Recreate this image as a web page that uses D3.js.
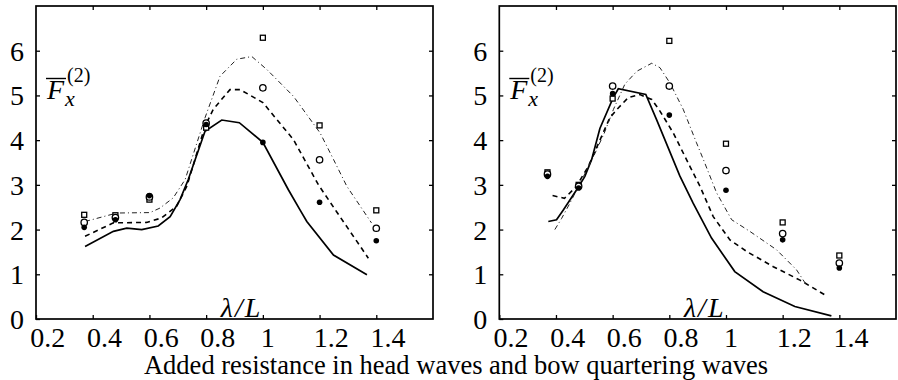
<!DOCTYPE html>
<html><head><meta charset="utf-8">
<script src="https://cdn.jsdelivr.net/npm/d3@7"></script>
<style>
body{margin:0;background:#fff;}
svg{display:block;}
svg text{font-family:"Liberation Serif","Times New Roman",serif !important;fill:#000;}
</style></head>
<body><svg id="c" width="898" height="380"></svg>
<script>
// ---- data ----
const xTicks = [0.2, 0.4, 0.6, 0.8, 1.0, 1.2, 1.4];
const yTicks = [0, 1, 2, 3, 4, 5, 6];
const lambdaExp = [0.37, 0.48, 0.6, 0.8, 1.0, 1.2, 1.4];

// head waves (left)
const headSquare = [2.33, 2.32, 2.67, 4.28, 6.29, 4.33, 2.43];
const headCircle = [2.16, 2.27, 2.73, 4.38, 5.17, 3.56, 2.03];
const headFilled = [2.05, 2.22, 2.76, 4.35, 3.95, 2.61, 1.75];
const headSolidX = [0.373,0.473,0.52,0.573,0.631,0.673,0.708,0.737,0.796,0.855,0.917,1.0,1.09,1.131,1.155,1.249,1.367];
const headSolidY = [1.62,1.96,2.03,2.0,2.08,2.29,2.67,3.12,4.2,4.45,4.39,3.95,2.89,2.44,2.18,1.43,0.99];
const headDashX = [0.373,0.473,0.59,0.643,0.696,0.732,0.796,0.825,0.884,0.92,1.0,1.108,1.196,1.26,1.372];
const headDashY = [1.85,2.15,2.16,2.26,2.52,2.97,4.31,4.69,5.13,5.13,4.84,4.01,3.0,2.4,1.36];
const headDotX = [0.373,0.485,0.602,0.637,0.684,0.726,0.796,0.849,0.908,0.961,1.014,1.108,1.202,1.249,1.296,1.383];
const headDotY = [2.18,2.37,2.38,2.48,2.71,3.12,4.5,5.43,5.81,5.87,5.58,4.98,4.16,3.57,2.97,2.15];

// bow quartering waves (right)
const bowSquare = [3.28, 3.0, 4.93, 6.22, 3.92, 2.16, 1.42];
const bowCircle = [3.24, 2.97, 5.21, 5.21, 3.32, 1.91, 1.25];
const bowFilled = [3.19, 2.93, 5.04, 4.56, 2.88, 1.77, 1.14];
const bowSolidX = [0.373,0.402,0.426,0.473,0.502,0.526,0.555,0.602,0.62,0.717,0.755,0.837,0.884,0.949,1.031,1.131,1.243,1.372];
const bowSolidY = [2.18,2.22,2.44,2.89,3.19,3.57,4.26,4.95,5.15,5.02,4.46,3.2,2.59,1.81,1.06,0.61,0.28,0.07];
const bowDashX = [0.388,0.43,0.47,0.514,0.59,0.62,0.655,0.696,0.738,0.767,0.814,0.873,0.908,0.955,1.014,1.073,1.167,1.261,1.349];
const bowDashY = [2.76,2.70,2.95,3.41,4.5,4.72,4.95,5.02,4.91,4.65,4.16,3.41,2.97,2.29,1.77,1.51,1.17,0.87,0.54];
const bowDotX = [0.396,0.42,0.45,0.49,0.53,0.57,0.603,0.643,0.685,0.738,0.767,0.802,0.849,0.896,0.92,0.967,1.02,1.084,1.178,1.249,1.284];
const bowDotY = [2.0,2.25,2.6,3.1,3.6,4.15,4.69,5.25,5.54,5.72,5.62,5.28,4.69,3.94,3.57,2.82,2.22,1.96,1.55,1.1,0.76];

const caption = "Added resistance in head waves and bow quartering waves";

// ---- drawing ----
const svg = d3.select("#c");
const yTop = 6, yBottom = 319;
const SERIF = '"Liberation Serif","Times New Roman",serif';

function panel(x0, x1, d) {
  const x = d3.scaleLinear([0.2, 1.6], [x0, x1]);
  const y = d3.scaleLinear([0, 7], [yBottom, yTop]);
  const g = svg.append("g");

  // axes with inward ticks
  const ax = g.append("g").attr("transform", `translate(0,${yBottom})`)
    .call(d3.axisBottom(x).tickValues(xTicks).tickSizeInner(-4).tickSizeOuter(0)
      .tickFormat(v => d3.format("")(+v.toFixed(1))));
  ax.attr("font-family", SERIF).attr("font-size", 28);
  ax.selectAll("text").style("font-size", "28px").style("font-family", SERIF)
    .attr("y", 28).attr("dy", 0)
    .each(function(){ const L = this.getComputedTextLength(); d3.select(this).attr("dx", 0.32*L); });
  g.append("g").attr("transform", `translate(0,${yTop})`)
    .call(d3.axisTop(x).tickValues(xTicks.slice(1)).tickSizeInner(-4).tickSizeOuter(0).tickFormat(""));
  const ay = g.append("g").attr("transform", `translate(${x0},0)`)
    .call(d3.axisLeft(y).tickValues(yTicks).tickSizeInner(-4).tickSizeOuter(0).tickFormat(d3.format("d")));
  ay.attr("font-family", SERIF).attr("font-size", 28);
  ay.selectAll("text").style("font-size", "28px").style("font-family", SERIF)
    .attr("x", -12).attr("dy", "0.34em");
  g.append("g").attr("transform", `translate(${x1},0)`)
    .call(d3.axisRight(y).tickValues(yTicks.slice(1)).tickSizeInner(-4).tickSizeOuter(0).tickFormat(""));
  g.selectAll(".domain").remove();
  g.selectAll(".tick line").attr("stroke", "#000").attr("stroke-width", 1.3);
  g.append("rect").attr("x", x0).attr("y", yTop).attr("width", x1 - x0).attr("height", yBottom - yTop)
    .attr("fill", "none").attr("stroke", "#000").attr("stroke-width", 1.7);

  const line = d3.line().x(p => x(p[0])).y(p => y(p[1]));
  const zip = (a, b) => a.map((v, i) => [v, b[i]]);
  g.append("path").attr("d", line(zip(d.solidX, d.solidY))).attr("fill", "none")
    .attr("stroke", "#000").attr("stroke-width", 1.7);
  g.append("path").attr("d", line(zip(d.dashX, d.dashY))).attr("fill", "none")
    .attr("stroke", "#000").attr("stroke-width", 1.6).attr("stroke-dasharray", "5,4");
  g.append("path").attr("d", line(zip(d.dotX, d.dotY))).attr("fill", "none")
    .attr("stroke", "#222").attr("stroke-width", 1.0).attr("stroke-dasharray", "5,3,1,3");

  // markers
  g.selectAll(".sq").data(zip(lambdaExp, d.sq)).join("rect")
    .attr("x", p => x(p[0]) - 2.5).attr("y", p => y(p[1]) - 2.5).attr("width", 5).attr("height", 5)
    .attr("fill", "#fff").attr("stroke", "#000").attr("stroke-width", 1.3);
  g.selectAll(".ci").data(zip(lambdaExp, d.ci)).join("circle")
    .attr("cx", p => x(p[0])).attr("cy", p => y(p[1])).attr("r", 3.2)
    .attr("fill", "#fff").attr("stroke", "#000").attr("stroke-width", 1.3);
  g.selectAll(".fi").data(zip(lambdaExp, d.fi)).join("circle")
    .attr("cx", p => x(p[0])).attr("cy", p => y(p[1])).attr("r", 2.8).attr("fill", "#000");

  // lambda/L label
  g.append("text").attr("x", x(0.925)).attr("y", 317).attr("text-anchor", "middle")
    .style("font-family", SERIF).style("font-size", "28px").style("font-style", "italic")
    .attr("letter-spacing", 2).text("λ/L");

  // F label: base, subscript and superscript as separate texts
  const fx = x0 + 11;
  g.append("line").attr("x1", fx - 1).attr("x2", fx + 19).attr("y1", 78.5).attr("y2", 78.5)
    .attr("stroke", "#000").attr("stroke-width", 1.4);
  g.append("text").attr("x", fx).attr("y", 99)
    .style("font-family", SERIF).style("font-size", "28px").style("font-style", "italic").text("F");
  g.append("text").attr("x", fx + 18).attr("y", 106)
    .style("font-family", SERIF).style("font-size", "22px").style("font-style", "italic").text("x");
  g.append("text").attr("x", fx + 20).attr("y", 82)
    .style("font-family", SERIF).style("font-size", "20px").text("(2)");
}

panel(36, 433, {solidX: headSolidX, solidY: headSolidY, dashX: headDashX, dashY: headDashY,
  dotX: headDotX, dotY: headDotY, sq: headSquare, ci: headCircle, fi: headFilled});
panel(499.3, 896, {solidX: bowSolidX, solidY: bowSolidY, dashX: bowDashX, dashY: bowDashY,
  dotX: bowDotX, dotY: bowDotY, sq: bowSquare, ci: bowCircle, fi: bowFilled});

svg.append("text").attr("x", 456).attr("y", 374).attr("text-anchor", "middle")
  .style("font-family", SERIF).style("font-size", "26.5px").text(caption);
</script></body></html>
